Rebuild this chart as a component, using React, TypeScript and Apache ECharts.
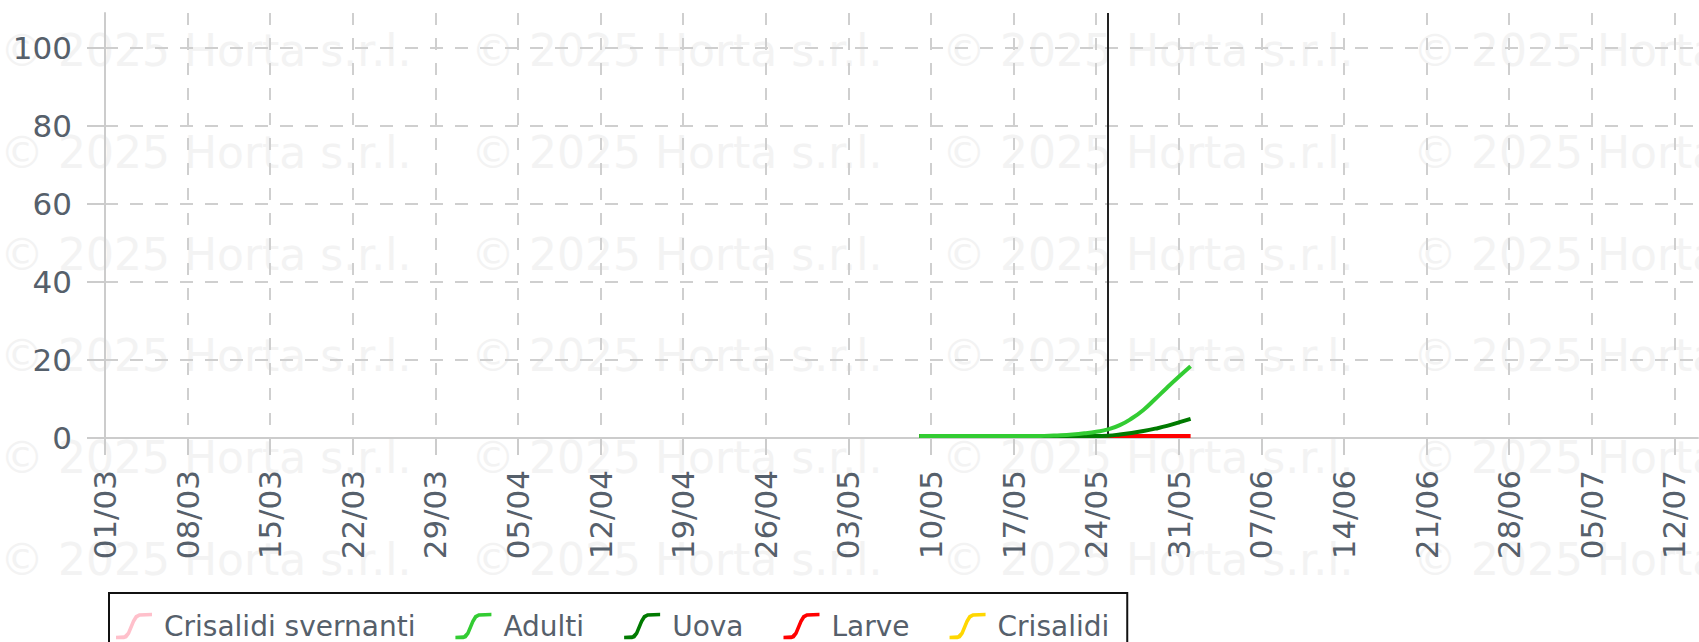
import React, { useEffect, useRef } from 'react';
import * as echarts from 'echarts';

// Tick labels (one every 7 days starting 01/03)
const xTickLabels = [
  '01/03', '08/03', '15/03', '22/03', '29/03', '05/04', '12/04', '19/04', '26/04', '03/05',
  '10/05', '17/05', '24/05', '31/05', '07/06', '14/06', '21/06', '28/06', '05/07', '12/07',
];
const yTickValues = [0, 20, 40, 60, 80, 100];

// Day offsets counted from 01/03
const seriesStartDay = 69; // 09/05
const todayDay = 85; // 25/05
const xMaxDay = 135;
const yMax = 109;

const seriesNames = ['Crisalidi svernanti', 'Adulti', 'Uova', 'Larve', 'Crisalidi'];
const seriesColors = ['#ffc0cb', '#33cc33', '#007a00', '#ff0000', '#ffd700'];

// Daily values from 09/05 to 01/06
const crisalidiSvernanti: number[] = [];
const adulti = [
  0.5, 0.5, 0.5, 0.5, 0.5, 0.5, 0.5, 0.5, 0.5, 0.5, 0.5,
  0.6, 0.7, 0.9, 1.2, 1.6, 2.2, 3.3, 5.0, 7.2, 10.0, 12.9, 15.7, 18.4,
];
const uova = [
  0.5, 0.5, 0.5, 0.5, 0.5, 0.5, 0.5, 0.5, 0.5, 0.5, 0.5, 0.5, 0.5, 0.5, 0.5,
  0.5, 0.6, 0.9, 1.3, 1.8, 2.4, 3.1, 4.0, 4.9,
];
const larve = [
  0.5, 0.5, 0.5, 0.5, 0.5, 0.5, 0.5, 0.5, 0.5, 0.5, 0.5, 0.5,
  0.5, 0.5, 0.5, 0.5, 0.5, 0.5, 0.5, 0.5, 0.5, 0.5, 0.5, 0.5,
];
const crisalidi: number[] = [];

const seriesValues = [crisalidiSvernanti, adulti, uova, larve, crisalidi];

const watermarkText = '© 2025 Horta s.r.l.';

const legendIcon =
  'path://M0,24.5 L8,24 L11,21 L16,9 L19,4 L23,2 L36,1.5 L36,5 L24,5.5 L21.5,7 L19,11 L14,23 L11,27 L8,28 L0,28 Z';

const FONT = '"DejaVu Sans", Verdana, sans-serif';
const TEXT_COLOR = '#56606b';
const GRID_COLOR = '#cfcfcf';
const AXIS_COLOR = '#cccccc';

export default function App() {
  const ref = useRef<HTMLDivElement>(null);

  useEffect(() => {
    if (!ref.current) return;
    const chart = echarts.init(ref.current, undefined, { renderer: 'svg' });

    const wmCols = [0, 471, 942, 1413];
    const wmRows = [50, 152, 254, 355, 457, 559];
    const watermark: any[] = [];
    wmRows.forEach((y) => {
      wmCols.forEach((x) => {
        watermark.push({
          type: 'text',
          x,
          y,
          z: -10,
          silent: true,
          style: {
            text: watermarkText,
            fontSize: 44,
            fontFamily: FONT,
            fill: '#f3f3f3',
            verticalAlign: 'middle',
          },
        });
      });
    });

    const xTickValues = xTickLabels.map((_, i) => i * 7);

    const series: any[] = seriesNames.map((name, si) => ({
      name,
      type: 'line',
      data: seriesValues[si].map((v, i) => [seriesStartDay + i, v]),
      smooth: true,
      symbol: 'none',
      showSymbol: false,
      z: 10 - si,
      lineStyle: { width: 4, color: seriesColors[si] },
      itemStyle: { color: seriesColors[si] },
    }));

    series[1].markLine = {
      silent: true,
      symbol: ['none', 'none'],
      label: { show: false },
      lineStyle: { color: '#222222', width: 2, type: 'solid' },
      data: [{ xAxis: todayDay }],
    };

    chart.setOption({
      animation: false,
      backgroundColor: '#ffffff',
      graphic: watermark,
      grid: {
        left: 105,
        right: 1,
        top: 13,
        bottom: 204,
        containLabel: false,
        outerBoundsMode: 'none',
      },
      legend: {
        data: seriesNames,
        left: 109,
        top: 593,
        orient: 'horizontal',
        borderColor: '#111111',
        borderWidth: 2,
        borderRadius: 0,
        padding: [19, 18, 19, 7],
        itemWidth: 36,
        itemHeight: 27,
        itemGap: 40,
        icon: legendIcon,
        itemStyle: { borderWidth: 0 },
        selectedMode: false,
        textStyle: {
          fontSize: 28,
          fontFamily: FONT,
          color: TEXT_COLOR,
          padding: [0, 0, 0, 7],
        },
      },
      xAxis: {
        type: 'value',
        min: 0,
        max: xMaxDay,
        interval: 7,
        axisLine: { show: true, onZero: true, lineStyle: { color: AXIS_COLOR, width: 2 } },
        axisTick: {
          show: true,
          length: 17,
          customValues: xTickValues,
          lineStyle: { color: AXIS_COLOR, width: 2 },
        },
        axisLabel: {
          customValues: xTickValues,
          rotate: 90,
          margin: 32,
          fontSize: 31,
          fontFamily: FONT,
          color: TEXT_COLOR,
          formatter: (v: number) => xTickLabels[Math.round(v / 7)] ?? '',
        },
        splitLine: {
          show: true,
          lineStyle: { color: GRID_COLOR, width: 2, type: [12, 13] },
        },
      },
      yAxis: {
        type: 'value',
        min: 0,
        max: yMax,
        interval: 20,
        axisLine: { show: true, lineStyle: { color: AXIS_COLOR, width: 2 } },
        axisTick: {
          show: true,
          length: 18,
          customValues: yTickValues,
          lineStyle: { color: AXIS_COLOR, width: 2 },
        },
        axisLabel: {
          customValues: yTickValues,
          margin: 33,
          fontSize: 31,
          fontFamily: FONT,
          color: TEXT_COLOR,
        },
        splitLine: {
          show: true,
          lineStyle: { color: GRID_COLOR, width: 2, type: [13, 12] },
        },
      },
      series,
    });

    return () => {
      chart.dispose();
    };
  }, []);

  return (
    <div
      ref={ref}
      style={{ position: 'absolute', left: 0, top: 0, width: 1699, height: 642 }}
    />
  );
}
